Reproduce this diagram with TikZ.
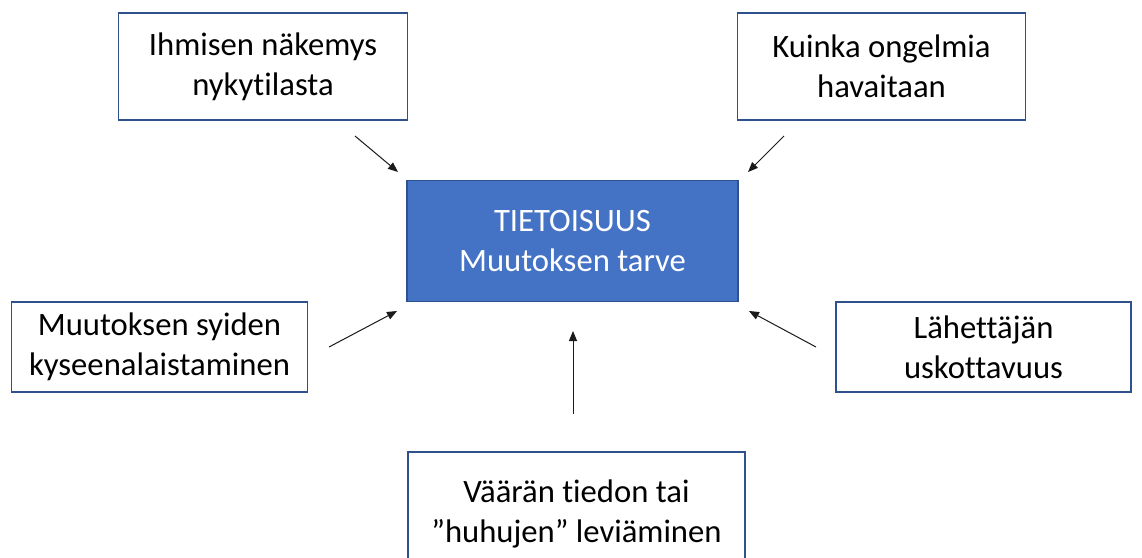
\documentclass[tikz,border=0pt]{standalone}
\usepackage{fontspec}
\setmainfont[RawFeature=-liga]{Carlito}
\usetikzlibrary{arrows.meta}
\definecolor{edgeblue}{HTML}{2F528F}
\definecolor{fillblue}{HTML}{4472C4}
\definecolor{arrowgray}{HTML}{1A1A1A}
\begin{document}
\begin{tikzpicture}[x=0.75pt,y=-0.75pt,
  factor/.style={draw=edgeblue,line width=1.1pt,fill=white,inner sep=0pt,
    align=center,font=\fontsize{24.5}{30}\selectfont,text=black},
  core/.style={draw=edgeblue,line width=1.1pt,fill=fillblue,inner sep=0pt,
    align=center,font=\fontsize{24.5}{30}\selectfont,text=white},
  influence/.style={draw=arrowgray,line width=0.75pt,
    -{Triangle[length=7.5pt,width=6pt]}}]
\useasboundingbox (0,0) rectangle (1142,557);
\fill[white] (0,0) rectangle (1142,557);

% central box
\node[core,minimum width=331*0.75pt,minimum height=121*0.75pt] (c) at (572.5,241) {TIETOISUUS\\Muutoksen tarve};

% surrounding factors
\node[factor,minimum width=289*0.75pt,minimum height=107*0.75pt] (tl) at (263,66.5) {Ihmisen näkemys\\nykytilasta};
\node[factor,minimum width=288*0.75pt,minimum height=107*0.75pt] (tr) at (881.5,66.5) {Kuinka ongelmia\\havaitaan};
\node[factor,minimum width=296*0.75pt,minimum height=90*0.75pt] (ml) at (159.5,347) {Muutoksen syiden\\kyseenalaistaminen};
\node[factor,minimum width=295*0.75pt,minimum height=90*0.75pt] (mr) at (983.5,347) {Lähettäjän\\uskottavuus};
\node[factor,minimum width=337*0.75pt,minimum height=124*0.75pt] (bt) at (576.5,514) {Väärän tiedon tai\\”huhujen” leviäminen};

% free-standing arrows pointing at the central box
\coordinate (a1s) at (355,136);
\coordinate (a1e) at (398,172);
\coordinate (a2s) at (784,136);
\coordinate (a2e) at (748,172);
\coordinate (a3s) at (329,347);
\coordinate (a3e) at (397,311);
\coordinate (a4s) at (816,347);
\coordinate (a4e) at (749,311);
\coordinate (a5s) at (573,414);
\coordinate (a5e) at (573,331);

\draw[influence] (a1s) -- (a1e);
\draw[influence] (a2s) -- (a2e);
\draw[influence] (a3s) -- (a3e);
\draw[influence] (a4s) -- (a4e);
\draw[influence] (a5s) -- (a5e);
\end{tikzpicture}
\end{document}
